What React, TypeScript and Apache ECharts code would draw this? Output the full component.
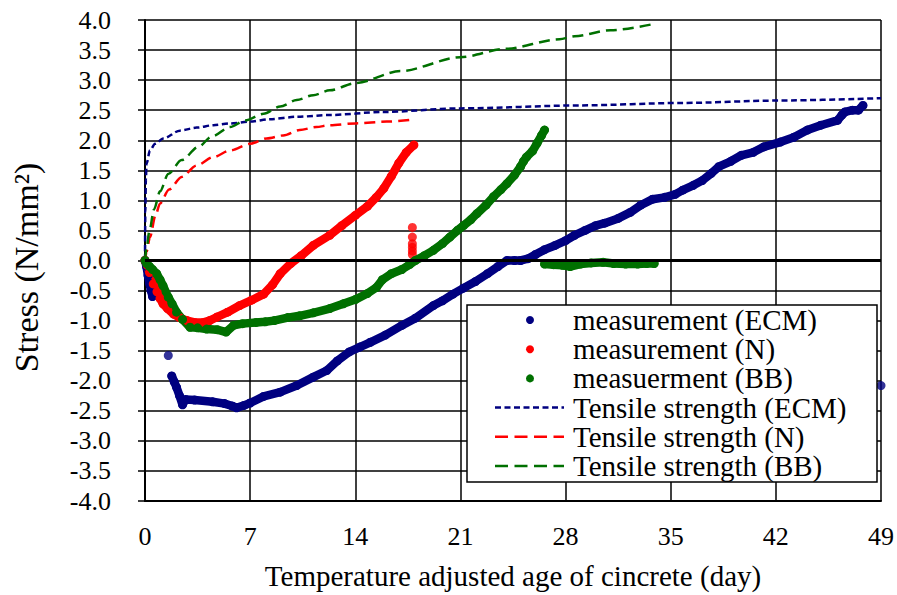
import React, { useEffect, useRef } from "react";
import * as echarts from "echarts";

// Days (temperature adjusted age) and stress readings, N/mm²
const xTicks = [0, 7, 14, 21, 28, 35, 42, 49];

const ecmEarly: number[][] = [
  [0, 0], [0.1, -0.1], [0.2, -0.25], [0.3, -0.38], [0.4, -0.5], [0.5, -0.6],
];
const ecmMain: number[][] = [
  [1.78, -1.92], [1.95, -2.02], [2.1, -2.11], [2.3, -2.25], [2.5, -2.4], [2.7, -2.31],
  [3.3, -2.32], [4.5, -2.35], [5.3, -2.38], [5.8, -2.42], [6.1, -2.45], [6.6, -2.41],
  [7.0, -2.37], [7.9, -2.26], [9.0, -2.19], [10.1, -2.08], [11.2, -1.94], [12.1, -1.83],
  [12.8, -1.67], [13.6, -1.52], [14.3, -1.44], [15.0, -1.36], [16.0, -1.24], [17.1, -1.08],
  [18.0, -0.96], [19.2, -0.75], [19.8, -0.67], [20.5, -0.56], [21.2, -0.46], [22.0, -0.35],
  [22.8, -0.22], [23.5, -0.1], [24.1, 0.0], [24.6, 0.0], [25.0, 0.0], [25.5, 0.03],
  [26.0, 0.1], [26.6, 0.18], [27.3, 0.25], [28.0, 0.33], [28.6, 0.42], [29.3, 0.5],
  [30.0, 0.58], [30.6, 0.62], [31.5, 0.7], [32.3, 0.8], [33.0, 0.92], [33.8, 1.02],
  [34.6, 1.05], [35.3, 1.1], [35.8, 1.17], [36.5, 1.25], [37.1, 1.33], [37.7, 1.45],
  [38.2, 1.56], [39.0, 1.65], [39.7, 1.75], [40.5, 1.8], [41.2, 1.89], [42.3, 1.97],
  [43.2, 2.05], [44.1, 2.17], [45.0, 2.25], [46.1, 2.33], [46.4, 2.42], [46.6, 2.47],
  [47.1, 2.5], [47.5, 2.5], [47.8, 2.58],
];
const ecmStray: number[][] = [[1.55, -1.58], [49, -2.08]];

const nMain: number[][] = [
  [0, 0], [0.15, -0.08], [0.3, -0.2], [0.55, -0.39], [0.8, -0.52], [1.0, -0.63],
  [1.2, -0.72], [1.5, -0.8], [1.9, -0.89], [2.3, -0.95], [2.8, -1.0], [3.3, -1.03],
  [3.9, -1.03], [4.3, -1.0], [4.8, -0.94], [5.5, -0.86], [6.3, -0.75], [7.1, -0.66],
  [7.9, -0.56], [8.5, -0.4], [9.0, -0.22], [9.7, -0.05], [10.4, 0.08], [11.2, 0.25],
  [12.3, 0.42], [13.1, 0.58], [14.0, 0.75], [14.8, 0.9], [15.4, 1.05], [15.9, 1.2],
  [16.4, 1.4], [16.9, 1.62], [17.4, 1.8], [17.9, 1.92],
];
const nSpike: number[][] = [
  [17.8, 0.55], [17.8, 0.39], [17.8, 0.28], [17.8, 0.22], [17.8, 0.16], [17.8, 0.1],
];

const bbMain: number[][] = [
  [0, 0], [0.1, -0.05], [0.3, -0.1], [0.5, -0.15], [0.78, -0.22], [1.0, -0.32],
  [1.2, -0.42], [1.55, -0.61], [1.8, -0.72], [2.1, -0.86], [2.5, -0.98], [3.0, -1.11],
  [3.5, -1.12], [4.1, -1.14], [4.8, -1.15], [5.4, -1.19], [5.9, -1.08], [6.5, -1.05],
  [7.4, -1.03], [8.0, -1.02], [8.6, -1.0], [9.5, -0.95], [10.3, -0.92], [11.2, -0.87],
  [12.3, -0.8], [13.2, -0.72], [14.0, -0.65], [14.8, -0.55], [15.4, -0.45], [15.8, -0.32],
  [16.4, -0.22], [17.1, -0.15], [17.6, -0.07], [18.0, 0.0], [18.6, 0.08], [19.2, 0.17],
  [19.8, 0.28], [20.3, 0.39], [20.8, 0.5], [21.2, 0.58], [21.7, 0.68], [22.1, 0.78],
  [22.7, 0.92], [23.2, 1.06], [23.7, 1.18], [24.1, 1.28], [24.6, 1.42], [25.0, 1.56],
  [25.2, 1.65], [25.4, 1.72], [25.8, 1.82], [26.1, 1.95], [26.4, 2.08], [26.6, 2.17],
];
const bbTail: number[][] = [
  [26.6, -0.06], [27.2, -0.07], [27.8, -0.08], [28.3, -0.1], [29.0, -0.06], [29.7, -0.04],
  [30.5, -0.03], [31.2, -0.05], [32.0, -0.06], [32.8, -0.06], [33.4, -0.05], [33.9, -0.05],
];

const tensileEcm: number[][] = [
  [0, 0], [0.02, 0.8], [0.06, 1.35], [0.1, 1.61], [0.33, 1.83], [0.67, 1.94],
  [1.22, 2.03], [2.33, 2.16], [3.44, 2.21], [4.55, 2.25], [5.67, 2.28], [7, 2.31],
  [8.3, 2.35], [10.1, 2.39], [12.3, 2.42], [15.8, 2.47], [21, 2.53], [29, 2.58],
  [35.7, 2.62], [42.1, 2.66], [49, 2.7],
];
const tensileN: number[][] = [
  [0, 0], [0.1, 0.14], [0.33, 0.39], [0.7, 0.75], [1.0, 0.95], [1.6, 1.18],
  [2.44, 1.39], [3.44, 1.58], [4.55, 1.72], [5.67, 1.83], [7, 1.94], [8.1, 2.03],
  [9.2, 2.08], [10.3, 2.17], [11.4, 2.22], [12.3, 2.25], [14, 2.28], [16.1, 2.31],
  [17.8, 2.34],
];
const tensileBb: number[][] = [
  [0, 0], [0.1, 0.2], [0.3, 0.5], [0.6, 0.85], [1.0, 1.15], [1.55, 1.44],
  [2.44, 1.67], [3.55, 1.89], [4.44, 2.06], [5.67, 2.22], [6.67, 2.33], [7.89, 2.44],
  [9, 2.56], [10.1, 2.67], [11.2, 2.75], [12.3, 2.83], [14, 2.95], [17, 3.15],
  [21, 3.38], [24, 3.52], [27.6, 3.68], [28.6, 3.73], [31, 3.83], [33.8, 3.93],
];

const legendLabels = [
  "measurement (ECM)",
  "measurement (N)",
  "measuerment (BB)",
  "Tensile strength (ECM)",
  "Tensile strength (N)",
  "Tensile strength (BB)",
];

const NAVY = "#000080";
const RED = "#ff0000";
const GREEN = "#007000";
const FONT = "Liberation Serif";

function dotRun(name: string, data: number[][], color: string) {
  return {
    name,
    type: "line",
    data,
    symbol: "circle",
    symbolSize: 9,
    showSymbol: true,
    itemStyle: { color },
    lineStyle: { color, width: 8.5, cap: "round", join: "round" },
    silent: true,
  };
}

function dots(name: string, data: number[][], color: string) {
  return {
    name,
    type: "scatter",
    data,
    symbol: "circle",
    symbolSize: 9,
    itemStyle: { color },
    silent: true,
  };
}

function strengthLine(name: string, data: number[][], color: string, dash: number[]) {
  return {
    name,
    type: "line",
    data,
    smooth: 0.3,
    smoothMonotone: "x",
    showSymbol: false,
    symbol: "none",
    lineStyle: { color, width: 2.5, type: dash },
    silent: true,
  };
}

export default function App() {
  const ref = useRef<HTMLDivElement>(null);

  useEffect(() => {
    if (!ref.current) return;
    const chart = echarts.init(ref.current, null, { renderer: "svg" });

    const legendLeft = 467;
    const legendTop = 305;
    const rowGap = 29.2;
    const firstRow = 320;
    const colors = [NAVY, RED, GREEN, NAVY, RED, GREEN];
    const legendItems: any[] = [
      {
        type: "rect",
        shape: { x: legendLeft, y: legendTop, width: 410, height: 177 },
        style: { fill: "#ffffff", stroke: "#000000", lineWidth: 1.5 },
        z: 100,
      },
    ];
    legendLabels.forEach((label, i) => {
      const y = firstRow + i * rowGap;
      if (i < 3) {
        legendItems.push({
          type: "circle",
          shape: { cx: 530, cy: y, r: 4 },
          style: { fill: colors[i] },
          z: 101,
        });
      } else {
        legendItems.push({
          type: "line",
          shape: { x1: 495, y1: y, x2: 564, y2: y },
          style: {
            stroke: colors[i],
            lineWidth: 2.5,
            lineDash: i === 3 ? [6, 3.5] : [13, 6.5],
          },
          z: 101,
        });
      }
      legendItems.push({
        type: "text",
        x: 573,
        y,
        style: {
          text: label,
          fill: "#000000",
          fontFamily: FONT,
          fontSize: 29,
          lineHeight: 28,
          verticalAlign: "middle",
        },
        z: 101,
      });
    });

    chart.setOption({
      animation: false,
      backgroundColor: "#ffffff",
      textStyle: { fontFamily: FONT },
      grid: { left: 145, right: 16, top: 20, bottom: 94, containLabel: false },
      xAxis: {
        type: "value",
        min: xTicks[0],
        max: xTicks[xTicks.length - 1],
        interval: 7,
        name: "Temperature adjusted age of cincrete (day)",
        nameLocation: "middle",
        nameGap: 60,
        nameTextStyle: { color: "#000", fontSize: 29, fontFamily: FONT },
        axisLine: { onZero: false, lineStyle: { color: "#000", width: 2 } },
        axisTick: { show: false },
        axisLabel: { color: "#000", fontSize: 26, fontFamily: FONT, margin: 22 },
        splitLine: { show: true, lineStyle: { color: "#000", width: 1.5 } },
      },
      yAxis: {
        type: "value",
        min: -4,
        max: 4,
        interval: 0.5,
        name: "Stress (N/mm²)",
        nameLocation: "middle",
        nameRotate: 90,
        nameGap: 102,
        nameTextStyle: { color: "#000", fontSize: 34, fontFamily: FONT, padding: [0, 0, 0, -14] },
        axisLine: { show: true, onZero: false, lineStyle: { color: "#000", width: 2 } },
        axisTick: { show: true, inside: false, length: 7, lineStyle: { color: "#000", width: 1.5 } },
        axisLabel: {
          color: "#000",
          fontSize: 26,
          fontFamily: FONT,
          margin: 34,
          formatter: (v: number) => v.toFixed(1),
        },
        splitLine: { show: true, lineStyle: { color: "#000", width: 1.5 } },
      },
      series: [
        {
          ...dotRun("measurement (ECM)", ecmEarly, NAVY),
          markLine: {
            silent: true,
            symbol: "none",
            label: { show: false },
            lineStyle: { color: "#000", width: 3, type: "solid" },
            data: [{ yAxis: 0 }],
          },
        },
        dotRun("measurement (ECM)", ecmMain, NAVY),
        dots("measurement (ECM)", ecmStray, NAVY),
        dotRun("measurement (N)", nMain, RED),
        dots("measurement (N)", nSpike, RED),
        dotRun("measuerment (BB)", bbMain, GREEN),
        dotRun("measuerment (BB)", bbTail, GREEN),
        strengthLine("Tensile strength (ECM)", tensileEcm, NAVY, [6, 3.5]),
        strengthLine("Tensile strength (N)", tensileN, RED, [11, 6]),
        strengthLine("Tensile strength (BB)", tensileBb, GREEN, [11, 6]),
      ],
      graphic: legendItems,
    });

    return () => chart.dispose();
  }, []);

  return (
    <div
      ref={ref}
      style={{ position: "absolute", left: 0, top: 0, width: 897, height: 595 }}
    />
  );
}
